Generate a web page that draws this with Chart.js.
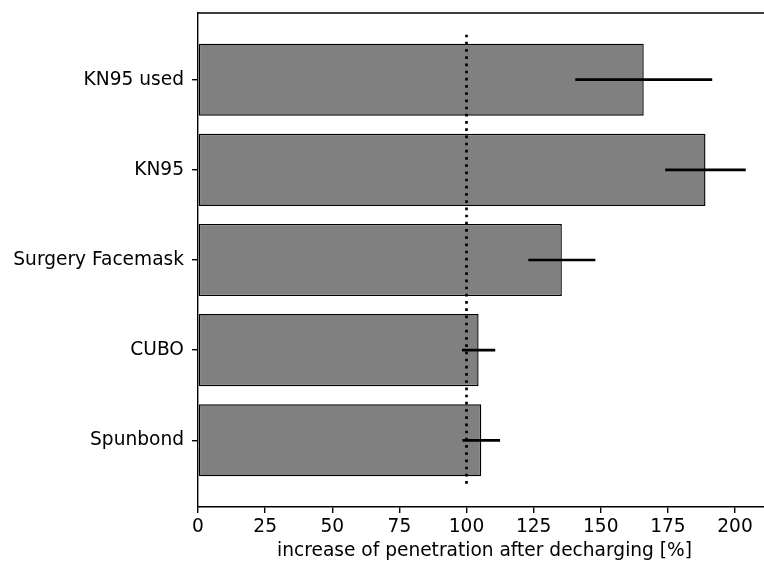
<!DOCTYPE html>
<html>
<head>
<meta charset="utf-8">
<script src="https://cdn.jsdelivr.net/npm/chart.js@4/dist/chart.umd.min.js"></script>
<style>
    html, body { margin: 0; padding: 0; overflow: hidden; background: #fff; }
    #wrap { width: 776px; height: 564px; }
</style>
</head>
<body>
<div id="wrap"><canvas id="decharge" width="776" height="564"></canvas></div>
<script>
// --- data ---
const categories = ['KN95 used', 'KN95', 'Surgery Facemask', 'CUBO', 'Spunbond'];
const increase = [166, 189, 135.5, 104.5, 105.5];   // bar length [%]
const errors = [25.5, 15, 12.5, 6.2, 7];           // +/- error
const xTicks = [0, 25, 50, 75, 100, 125, 150, 175, 200];
const refValue = 100;                               // dotted reference line
const refSpan = [-0.5, 4.5];                        // line runs from first to last bar slot

const FONT = { family: 'DejaVu Sans', size: 18.6 };

// error bars on top of the bars (no caps)
const errorBarPlugin = {
    id: 'errorBars',
    afterDatasetsDraw(chart) {
        const { ctx, scales: { x, y } } = chart;
        ctx.save();
        ctx.strokeStyle = '#000';
        ctx.lineWidth = 2.7;
        increase.forEach((v, i) => {
            const py = y.getPixelForValue(i);
            ctx.beginPath();
            ctx.moveTo(x.getPixelForValue(v - errors[i]), py);
            ctx.lineTo(x.getPixelForValue(v + errors[i]), py);
            ctx.stroke();
        });
        ctx.restore();
    }
};

// top and right spines (bottom/left come from the axes)
const framePlugin = {
    id: 'frame',
    afterDraw(chart) {
        const { ctx, chartArea: a } = chart;
        ctx.save();
        ctx.strokeStyle = '#000';
        ctx.lineWidth = 1.4;
        ctx.beginPath();
        ctx.moveTo(a.left, a.top);
        ctx.lineTo(a.right, a.top);
        ctx.lineTo(a.right, a.bottom);
        ctx.stroke();
        ctx.restore();
    }
};

const ctx = document.getElementById('decharge').getContext('2d');
new Chart(ctx, {
    type: 'bar',
    data: {
        datasets: [
            {
                type: 'line',
                indexAxis: 'y',
                data: refSpan.map(s => ({ x: refValue, y: s })),
                borderColor: '#000',
                borderWidth: 2.7,
                borderDash: [2.7, 4.5],
                pointRadius: 0,
                fill: false,
                order: 0
            },
            {
                type: 'bar',
                data: increase.map((v, i) => ({ x: v, y: i })),
                backgroundColor: '#808080',
                borderColor: '#000',
                borderWidth: 1.4,
                borderSkipped: false,
                barPercentage: 1.0,
                categoryPercentage: 0.8,
                order: 1
            }
        ]
    },
    options: {
        indexAxis: 'y',
        responsive: false,
        animation: false,
        layout: { padding: { top: 13, right: 5, left: 0, bottom: 0 } },
        plugins: {
            legend: { display: false },
            tooltip: { enabled: false }
        },
        scales: {
            x: {
                type: 'linear',
                position: 'bottom',
                min: 0,
                max: 213.4,
                afterBuildTicks: s => { s.ticks = xTicks.map(v => ({ value: v })); },
                afterFit: s => { s.height = 57; s.paddingLeft = 0; s.paddingRight = 0; },
                ticks: { color: '#000', font: FONT, padding: 3, maxRotation: 0 },
                grid: { drawOnChartArea: false, drawTicks: true, tickLength: 6, color: '#000', lineWidth: 1.4 },
                border: { display: true, color: '#000', width: 1.4 },
                title: {
                    display: true,
                    text: 'increase of penetration after decharging [%]',
                    color: '#000',
                    font: FONT,
                    padding: { top: 0, bottom: 2 }
                }
            },
            y: {
                type: 'linear',
                reverse: true,
                offset: false,
                min: -0.74,
                max: 4.74,
                afterBuildTicks: s => { s.ticks = categories.map((c, i) => ({ value: i })); },
                afterFit: s => { s.width = 198; s.paddingTop = 0; s.paddingBottom = 0; },
                ticks: {
                    color: '#000',
                    font: FONT,
                    padding: 8,
                    callback: v => categories[v]
                },
                grid: { offset: false, drawOnChartArea: false, drawTicks: true, tickLength: 6, color: '#000', lineWidth: 1.4 },
                border: { display: true, color: '#000', width: 1.4 }
            }
        }
    },
    plugins: [errorBarPlugin, framePlugin]
});
</script>
</body>
</html>
